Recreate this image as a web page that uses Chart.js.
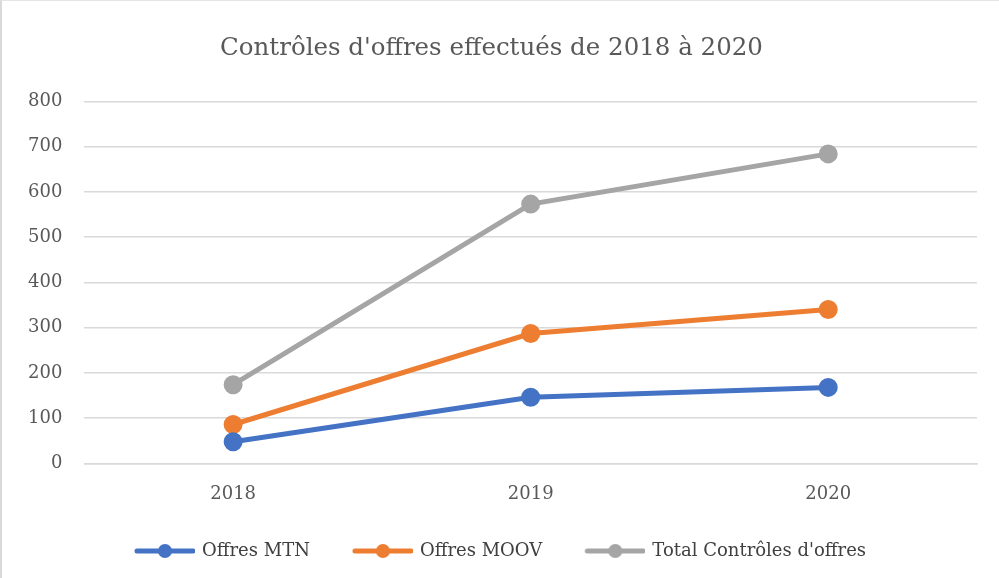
<!DOCTYPE html>
<html>
<head>
<meta charset="utf-8">
<script src="https://cdn.jsdelivr.net/npm/chart.js@4"></script>
<style>
  html, body { margin: 0; padding: 0; background: #fff; }
  #wrap { width: 999px; height: 578px; position: relative; box-sizing: border-box; border-left: 2px solid #d9d9d9; border-top: 1px solid #e6e6e6; }
  canvas { display: block; }
</style>
</head>
<body>
<div id="wrap"><canvas id="lineChart" width="997" height="577"></canvas></div>
<script>
var years = ["2018", "2019", "2020"];
var mtn = [48, 146, 168];
var moov = [86, 287, 340];
var total = [174, 573, 684];
var seriesNames = ["Offres MTN", "Offres MOOV", "Total Contrôles d'offres"];
var colors = ["#4472C4", "#ED7D31", "#A5A5A5"];

// legend marker: line with a dot, left part left blank as spacing
function marker(color) {
    var c = document.createElement("canvas");
    c.width = 80; c.height = 16;
    var g = c.getContext("2d");
    g.strokeStyle = color; g.lineWidth = 5; g.lineCap = "round";
    g.beginPath(); g.moveTo(22, 8); g.lineTo(78, 8); g.stroke();
    g.fillStyle = color;
    g.beginPath(); g.arc(50, 8, 7, 0, Math.PI * 2); g.fill();
    return c;
}

var fontFam = "'DejaVu Serif', 'Liberation Serif', serif";
var series = [mtn, moov, total];
var datasets = series.map(function (d, i) {
    return {
        label: seriesNames[i],
        data: d,
        borderColor: colors[i],
        backgroundColor: colors[i],
        borderWidth: 5,
        pointRadius: 7,
        pointHoverRadius: 7,
        pointStyle: "circle",
        tension: 0
    };
});

var ctx = document.getElementById("lineChart");
new Chart(ctx, {
    type: "line",
    data: { labels: years, datasets: datasets },
    options: {
        responsive: false,
        animation: false,
        layout: { padding: { left: 4, right: 22, top: 6, bottom: 8 } },
        plugins: {
            title: {
                display: true,
                text: "Contrôles d'offres effectués de 2018 à 2020",
                color: "#595959",
                font: { family: fontFam, size: 24.5, weight: "normal" },
                padding: { top: 27, bottom: 38 }
            },
            legend: {
                position: "bottom",
                labels: {
                    color: "#404040",
                    font: { family: fontFam, size: 18 },
                    usePointStyle: true,
                    pointStyleWidth: 76,
                    padding: 25,
                    generateLabels: function (chart) {
                        return chart.data.datasets.map(function (ds, i) {
                            return {
                                text: ds.label,
                                pointStyle: marker(colors[i]),
                                fillStyle: colors[i],
                                strokeStyle: colors[i],
                                datasetIndex: i,
                                fontColor: "#404040"
                            };
                        });
                    }
                }
            },
            tooltip: { enabled: false }
        },
        scales: {
            x: {
                offset: true,
                grid: { display: false },
                border: { color: "#d9d9d9", width: 1.5 },
                ticks: { color: "#595959", font: { family: fontFam, size: 18 }, padding: 12 }
            },
            y: {
                min: 0,
                max: 800,
                ticks: { stepSize: 100, color: "#595959", font: { family: fontFam, size: 18 }, padding: 22 },
                grid: { color: "#d9d9d9", lineWidth: 1.5, drawTicks: false },
                border: { display: false }
            }
        }
    }
});
</script>
</body>
</html>
